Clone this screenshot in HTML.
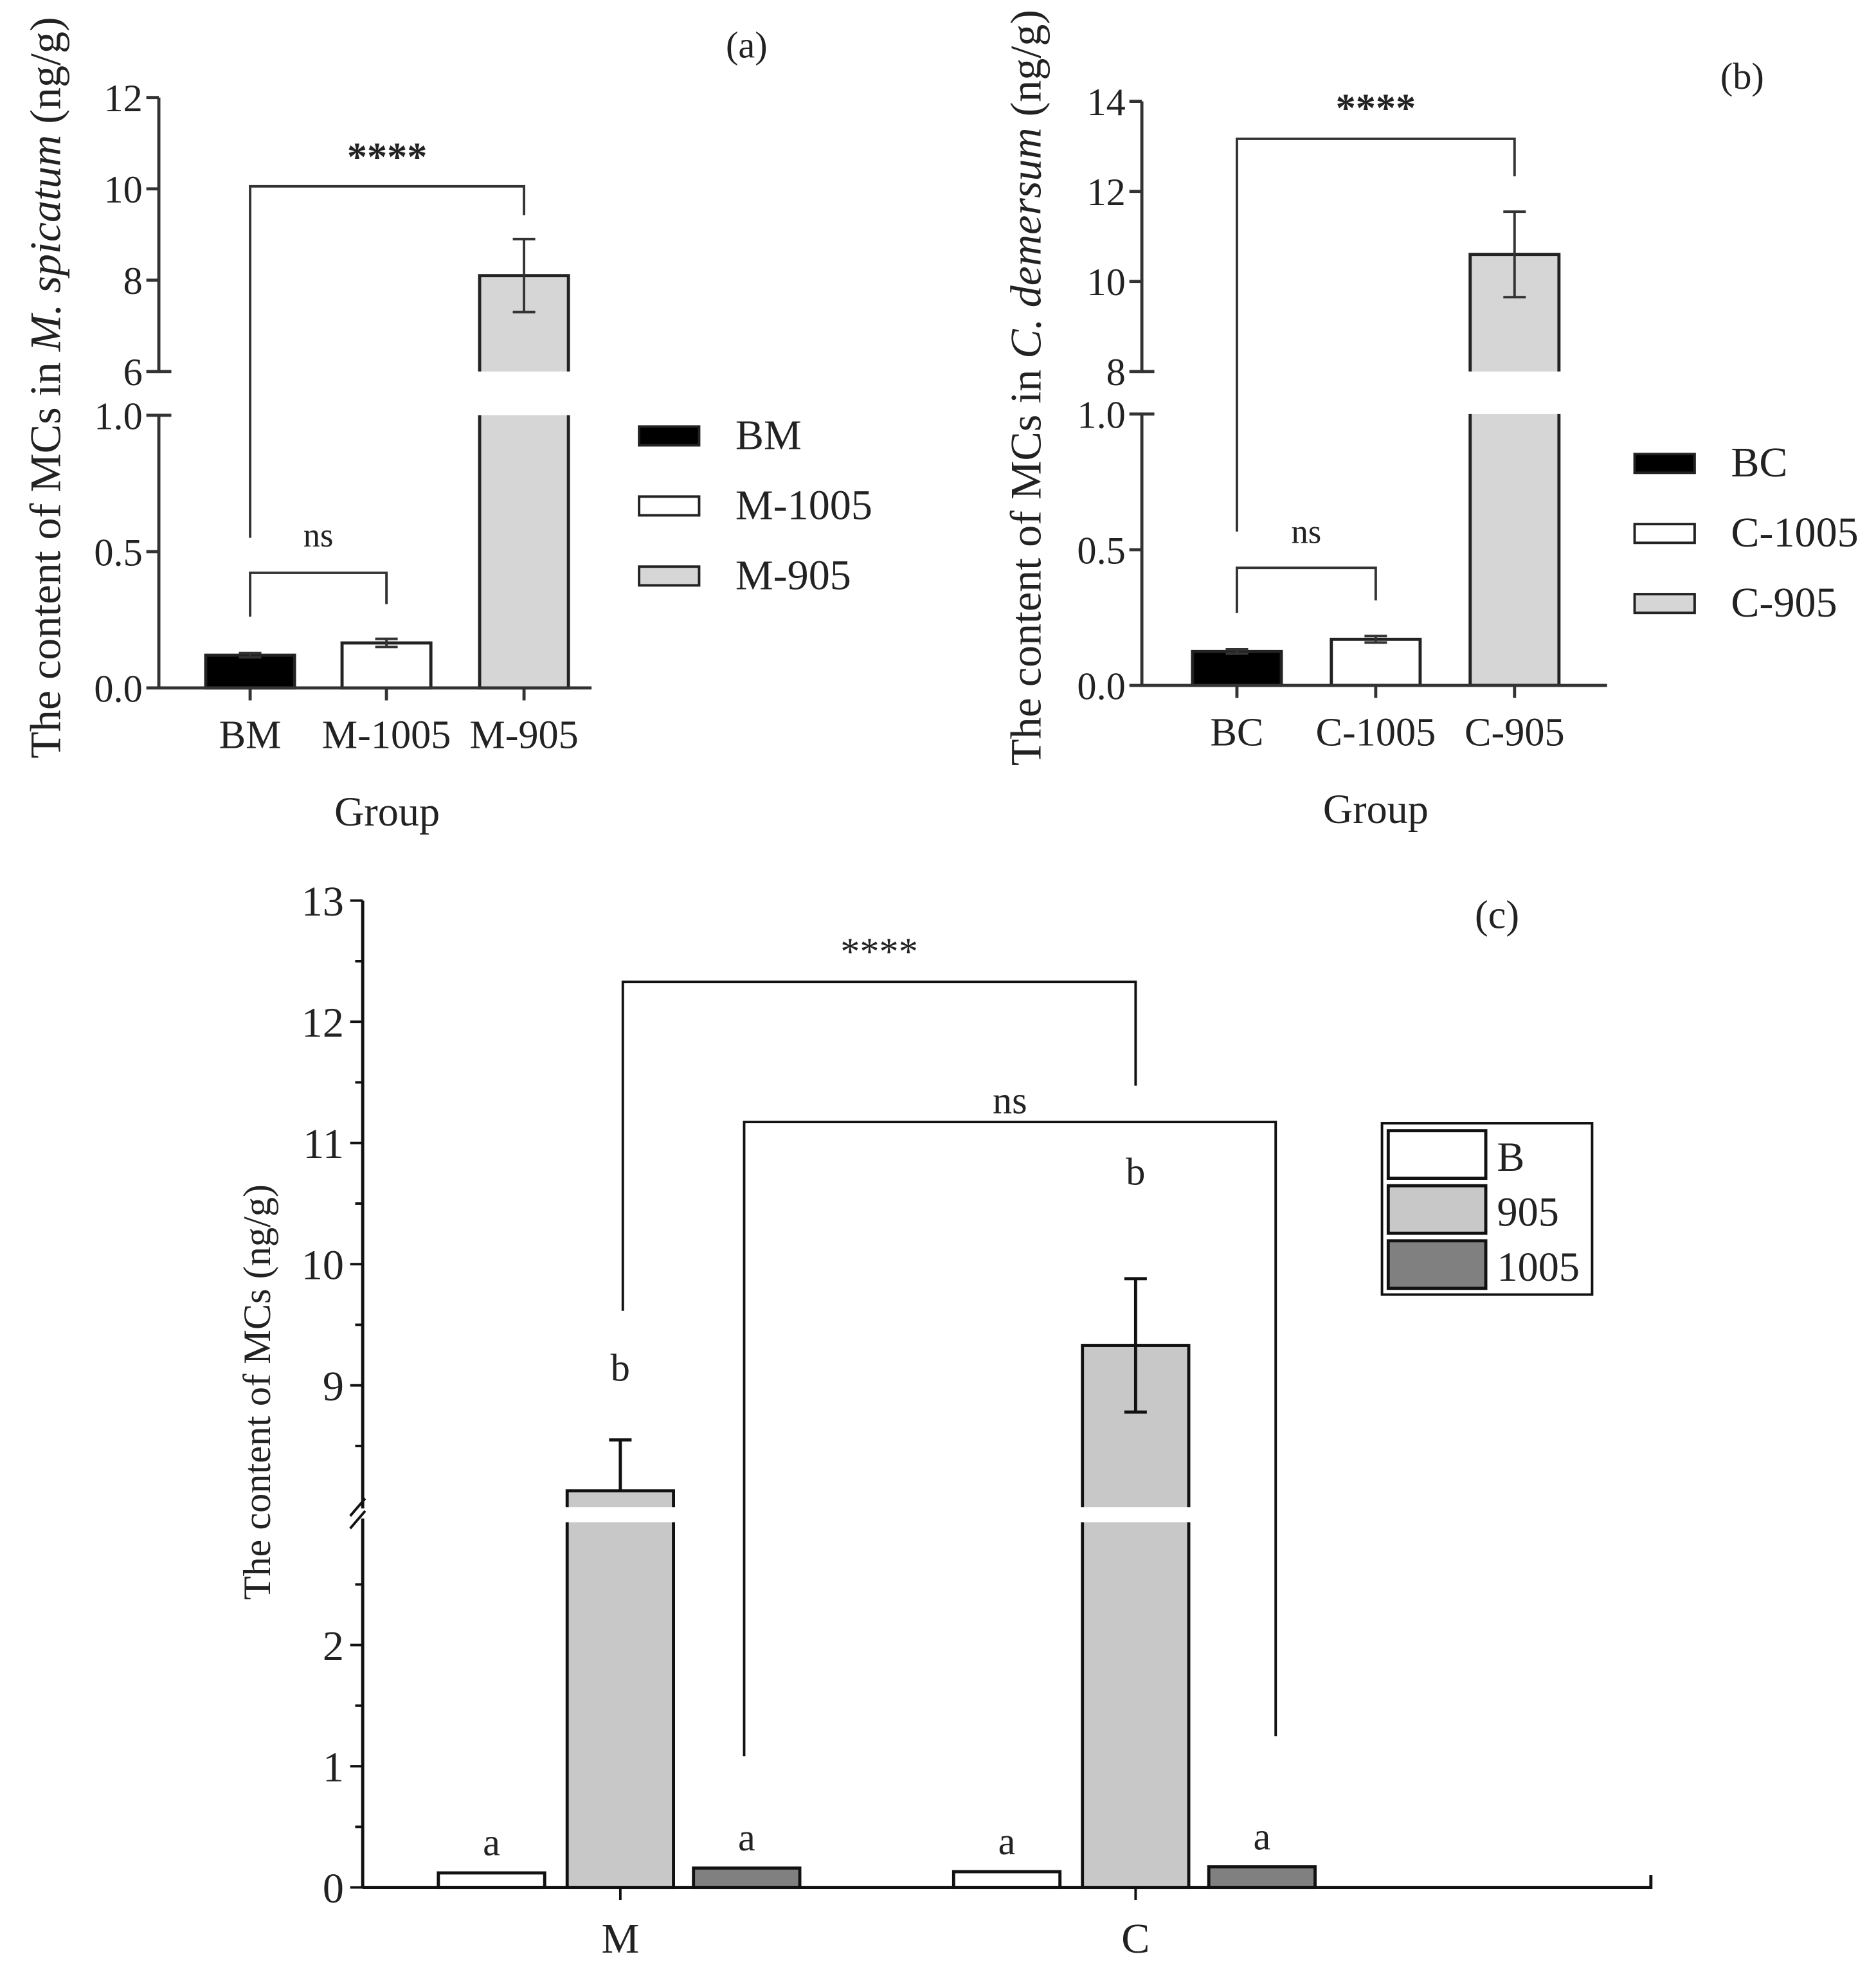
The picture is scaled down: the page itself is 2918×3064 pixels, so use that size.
<!DOCTYPE html>
<html><head><meta charset="utf-8"><style>
html,body{margin:0;padding:0;background:#fff}
svg{display:block}
text{font-family:"Liberation Serif",serif;fill:#222}
</style></head><body>
<svg id="fig" width="2918" height="3064" viewBox="0 0 1500 1575" preserveAspectRatio="none" xmlns="http://www.w3.org/2000/svg"></svg>
<script>
// Panel (a) data
const aCats = ["BM","M-1005","M-905"];
const aVals = [0.12, 0.165, 8.1];
const aErrs = [0.008, 0.015, 0.8];
// Panel (b) data
const bCats = ["BC","C-1005","C-905"];
const bVals = [0.125, 0.17, 10.6];
const bErrs = [0.008, 0.012, 0.95];
// Panel (c) data
const cGroups = ["M","C"];
const cSeries = ["B","905","1005"];
const cValsB = [0.12, 0.13];
const cVals905 = [8.13, 9.33];
const cVals1005 = [0.16, 0.17];
const cErr905 = [0.42, 0.55];
const cLetters = [["a","b","a"],["a","b","a"]];

const NS="http://www.w3.org/2000/svg";
const svg=document.getElementById('fig');
function el(tag,attrs,parent){const e=document.createElementNS(NS,tag);for(const k in attrs)e.setAttribute(k,attrs[k]);(parent||svg).appendChild(e);return e;}
function txt(x,y,s,size,opts,parent){const t=el('text',Object.assign({x:x,y:y,'font-size':size,'text-anchor':'middle'},opts||{}),parent);t.textContent=s;return t;}

function panelAB(cfg){
  const g=el('g',{});
  
  
  const ax=cfg.ax, y0=cfg.y0, yLowTop=cfg.yLowTop, yBrk=cfg.yBrk, yTop=cfg.yTop;
  const lowY=v=>y0-(v/1.0)*(y0-yLowTop);
  const upY=v=>yBrk-(v-cfg.upMin)/(cfg.upMax-cfg.upMin)*(yBrk-yTop);
  const Y=v=>v<=1?lowY(v):upY(v);
  const barW=71;
  const centers=cfg.centers;
  cfg.vals.forEach((v,i)=>{
    const cx=centers[i], x=cx-barW/2;
    const fill=cfg.fills[i];
    if(v<=1){
      const r=el('rect',{x:x,y:lowY(v),width:barW,height:y0-lowY(v),fill:fill,stroke:'#222','stroke-width':2.5},g);
      
      
    } else {
      el('rect',{x:x,y:yLowTop,width:barW,height:y0-yLowTop,fill:fill},g);
      const r1=el('path',{d:`M${x} ${yLowTop}V${y0}H${x+barW}V${yLowTop}`,fill:'none',stroke:'#222','stroke-width':2.5},g);
      
      
      el('rect',{x:x,y:upY(v),width:barW,height:yBrk-upY(v),fill:fill},g);
      const r2=el('path',{d:`M${x} ${yBrk}V${upY(v)}H${x+barW}V${yBrk}`,fill:'none',stroke:'#222','stroke-width':2.5},g);
      
      
    }
    const e=cfg.errs[i], hi=Y(v+e), lo=Y(v-e);
    const eb=el('path',{d:`M${cx} ${hi}V${lo}M${cx-9} ${hi}H${cx+9}M${cx-9} ${lo}H${cx+9}`,stroke:'#333','stroke-width':2,fill:'none'},g);
    
    
  });
  const yax=el('path',{d:`M${ax} ${yTop}V${yBrk}M${ax} ${yLowTop}V${y0}`,stroke:'#333','stroke-width':2.5,fill:'none'},g);
  
  
  const xax=el('path',{d:`M${ax} ${y0}H${cfg.xEnd}`,stroke:'#333','stroke-width':2.5,fill:'none'},g);
  
  
  const ticks=[[0,'0.0'],[0.5,'0.5'],[1,'1.0']].concat(cfg.upTicks.map(t=>[t,String(t)]));
  ticks.forEach(([v,l])=>{
    const yy=Y(v);
    el('path',{d:`M${ax-10} ${yy}H${ax+(v==1||v==cfg.upMin?10:0)}`,stroke:'#333','stroke-width':2.5},g);
    const t=txt(ax-13,yy+11,l,31,{'text-anchor':'end'},g);
    
    
  });
  centers.forEach((cx,i)=>{
    el('path',{d:`M${cx} ${y0}V${y0+10}`,stroke:'#333','stroke-width':2.5},g);
    const t=txt(cx,y0+48,cfg.cats[i],32,{},g);
    
    
  });
  cfg.brackets.forEach(b=>{
    const p=el('path',{d:`M${b.x1} ${b.yl}V${b.y}H${b.x2}V${b.yr}`,stroke:'#333','stroke-width':2,fill:'none'},g);
    
    
    const t=txt((b.x1+b.x2)/2,b.ty,b.label,b.label=='ns'?27:32,b.label=='ns'?{}:{'font-weight':'bold','font-family':'Liberation Sans'},g);
    
    
  });
  cfg.cats.forEach((c,i)=>{
    const ly=cfg.legY[i];
    const r=el('rect',{x:cfg.legX,y:ly-7,width:48,height:15,fill:cfg.fills[i],stroke:'#222','stroke-width':2},g);
    
    
    const t=txt(cfg.legX+77,ly+11,c,34,{'text-anchor':'start'},g);
    
    
  });
  const yt=el('text',{x:0,y:0,'font-size':35,'text-anchor':'middle',transform:`translate(${cfg.titleX},${cfg.titleY}) rotate(-90)`},g);
  yt.innerHTML=cfg.title;
  
  
  const xt=txt((centers[0]+centers[2])/2,y0+110,'Group',33,{},g);
  
  
  const pl=txt(cfg.plX,cfg.plY,cfg.plLabel,30,{},g);
  
  
}

panelAB({name:'panel-a',cats:aCats,vals:aVals,errs:aErrs,ax:127,y0:550,yLowTop:332,yBrk:297,yTop:78,upMin:6,upMax:12,upTicks:[6,8,10,12],
  centers:[200,309,419],xEnd:473,fills:['#000','#fff','#d6d6d6'],
  brackets:[{x1:200,x2:419,y:149,yl:430,yr:172,ty:136,label:'****'},{x1:200,x2:309,y:458,yl:493,yr:483,ty:437,label:'ns'}],
  legX:511,legY:[348,404,460],title:'The content of MCs in <tspan font-style="italic">M. spicatum</tspan> (ng/g)',titleX:48,titleY:310,plX:597,plY:46,plLabel:'(a)'});
panelAB({name:'panel-b',cats:bCats,vals:bVals,errs:bErrs,ax:913,y0:548,yLowTop:331,yBrk:297,yTop:81,upMin:8,upMax:14,upTicks:[8,10,12,14],
  centers:[989,1100,1211],xEnd:1285,fills:['#000','#fff','#d6d6d6'],
  brackets:[{x1:989,x2:1211,y:111,yl:425,yr:141,ty:97,label:'****'},{x1:989,x2:1100,y:454,yl:490,yr:480,ty:434,label:'ns'}],
  legX:1307,legY:[370,426,482],title:'The content of MCs in <tspan font-style="italic">C. demersum</tspan> (ng/g)',titleX:832,titleY:310,plX:1393,plY:71,plLabel:'(b)'});

// Panel (c)
(function(){
  const g=el('g',{});
  
  
  const ax=290, y0=1509, unit=96.9, yTop=720, brk=1210;
  const lowY=v=>y0-v*unit;
  const upY=v=>yTop+(13-v)*unit;
  const Y=v=>v<=3?lowY(v):upY(v);
  const groupCenters=[496,908];
  const offsets=[-103,0,101];
  const fills=['#fff','#c8c8c8','#808080'];
  const seriesVals=[cValsB,cVals905,cVals1005];
  const bw=85;
  cGroups.forEach((gname,gi)=>{
    seriesVals.forEach((arr,si)=>{
      const v=arr[gi], cx=groupCenters[gi]+offsets[si], x=cx-bw/2;
      const top=Y(v);
      const r=el('rect',{x:x,y:top,width:bw,height:y0-top,fill:fills[si],stroke:'#111','stroke-width':2.5},g);
      
      
      if(v>3){
        el('rect',{x:x-2,y:brk-5,width:bw+4,height:12,fill:'#fff'},g);
      }
      let ly=top-14;
      if(si==1){
        const e=cErr905[gi], hi=Y(v+e), lo=gi==1?Y(v-e):top;
        const eb=el('path',{d:`M${cx} ${hi}V${lo}M${cx-9} ${hi}H${cx+9}`+(gi==1?`M${cx-9} ${lo}H${cx+9}`:''),stroke:'#111','stroke-width':2.5,fill:'none'},g);
        
        
        ly=gi==0?1104:947;
      }
      const t=txt(cx,ly,cLetters[gi][si],31,{},g);
      
      
    });
    el('path',{d:`M${groupCenters[gi]} ${y0}V${y0+10}`,stroke:'#111','stroke-width':2},g);
    const t=txt(groupCenters[gi],y0+52,gname,34,{},g);
    
    
  });
  const yax=el('path',{d:`M${ax} ${yTop}V${y0}`,stroke:'#111','stroke-width':2.5,fill:'none'},g);
  
  
  el('rect',{x:ax-8,y:brk-4,width:16,height:8,fill:'#fff'},g);
  el('path',{d:`M${ax-10} ${brk+2}L${ax+2} ${brk-12}M${ax-10} ${brk+12}L${ax+2} ${brk-2}`,stroke:'#111','stroke-width':2},g);
  const xax=el('path',{d:`M${ax} ${y0}H1320V${y0-10}`,stroke:'#111','stroke-width':2.5,fill:'none'},g);
  
  
  [9,10,11,12,13].forEach(v=>{
    el('path',{d:`M${ax-10} ${upY(v)}H${ax}`,stroke:'#111','stroke-width':2},g);
    const t=txt(ax-15,upY(v)+12,String(v),34,{'text-anchor':'end'},g);
    
    
    el('path',{d:`M${ax-6} ${upY(v-0.5)}H${ax}`,stroke:'#111','stroke-width':2},g);
  });
  [0,1,2].forEach(v=>{
    el('path',{d:`M${ax-10} ${lowY(v)}H${ax}`,stroke:'#111','stroke-width':2},g);
    const t=txt(ax-15,lowY(v)+12,String(v),34,{'text-anchor':'end'},g);
    
    
    el('path',{d:`M${ax-6} ${lowY(v+0.5)}H${ax}`,stroke:'#111','stroke-width':2},g);
  });
  el('path',{d:`M${ax-6} ${upY(12.5)}H${ax}`,stroke:'#111','stroke-width':2},g);
  const br=[{x1:498,x2:908,y:785,yl:1048,yr:868,ty:771,label:'****'},{x1:595,x2:1020,y:897,yl:1404,yr:1388,ty:890,label:'ns'}];
  br.forEach(b=>{
    const p=el('path',{d:`M${b.x1} ${b.yl}V${b.y}H${b.x2}V${b.yr}`,stroke:'#111','stroke-width':2,fill:'none'},g);
    
    
    const t=txt((b.x1+b.x2)/2,b.ty,b.label,31,{},g);
    
    
  });
  const lb=el('rect',{x:1105,y:898,width:168,height:137,fill:'#fff',stroke:'#111','stroke-width':2},g);
  
  
  cSeries.forEach((s,i)=>{
    const yy=904+i*44;
    const r=el('rect',{x:1110,y:yy,width:78,height:38,fill:fills[i],stroke:'#111','stroke-width':2.5},g);
    
    
    const t=txt(1197,yy+32,s,33,{'text-anchor':'start'},g);
    
    
  });
  const yt=el('text',{x:0,y:0,'font-size':31,'text-anchor':'middle',transform:'translate(216,1113) rotate(-90)'},g);
  yt.textContent='The content of MCs (ng/g)';
  
  
  const pl=txt(1197,742,'(c)',32,{},g);
  
  
})();
</script>
</body></html>
